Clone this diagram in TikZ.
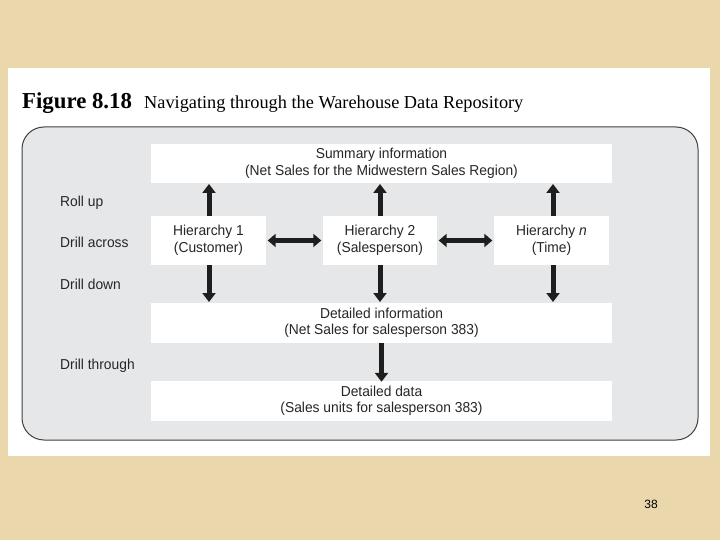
\documentclass[tikz,border=0pt]{standalone}
\usepackage{fontspec}
\setmainfont{Liberation Serif}
\setsansfont{Liberation Sans}
\newfontfamily\boxfont[FakeStretch=0.96]{Liberation Sans}
\usetikzlibrary{arrows.meta}
\definecolor{parch}{HTML}{EAD7AC}
\definecolor{panelgray}{HTML}{E6E7E9}
\definecolor{arr}{HTML}{1E1E1E}
\tikzset{
  box/.style={fill=white, draw=none, inner sep=0pt, align=center, font=\boxfont\fontsize{14.4}{16.5}\selectfont, text=black!85},
  lab/.style={anchor=west, inner sep=0pt, font=\boxfont\fontsize{14.4}{16.5}\selectfont, text=black!85},
  thick arrow/.style={draw=arr, line width=5pt, -{Triangle[width=13pt,length=9pt]}},
  dbl arrow/.style={draw=arr, line width=5.5pt, {Triangle[width=13pt,length=8pt]}-{Triangle[width=13pt,length=8pt]}}
}
\begin{document}
\begin{tikzpicture}[x=1pt,y=-1pt]
\useasboundingbox (0,0) rectangle (720,540);
\fill[parch] (0,0) rectangle (720,540);
\fill[white] (8,68) rectangle (710,456);
\node[anchor=base west, inner sep=0pt] (title) at (22,109) {\fontsize{22.8}{24}\selectfont\bfseries Figure 8.18};
\node[anchor=base west, inner sep=0pt] (subtitle) at (144,109) {\fontsize{18.3}{20}\selectfont Navigating through the Warehouse Data Repository};
\draw[draw=black!75, line width=1pt, fill=panelgray, rounded corners=22pt] (22,127) rectangle (698,440);
\node[box, minimum width=461pt, minimum height=39pt] (sum) at (381.5,163.5) {Summary information\\(Net Sales for the Midwestern Sales Region)};
\node[box, minimum width=115pt, minimum height=49pt] (h1) at (208.5,240.5) {Hierarchy 1\\(Customer)};
\node[box, minimum width=114pt, minimum height=49pt] (h2) at (380,240.5) {Hierarchy 2\\(Salesperson)};
\node[box, minimum width=115pt, minimum height=49pt] (hn) at (551.5,240.5) {Hierarchy \textit{n}\\(Time)};
\node[box, minimum width=461pt, minimum height=40pt] (dinfo) at (381.5,323) {Detailed information\\(Net Sales for salesperson 383)};
\node[box, minimum width=461pt, minimum height=40pt] (ddata) at (381.5,401) {Detailed data\\(Sales units for salesperson 383)};
\node[lab] (l1) at (60,202.5) {Roll up};
\node[lab] (l2) at (60,242.5) {Drill across};
\node[lab] (l3) at (60,284.5) {Drill down};
\node[lab] (l4) at (60,365.5) {Drill through};
\foreach \h/\x in {h1/209,h2/380,hn/553}{
  \draw[thick arrow] (\x,216) -- (\x,184);
  \draw[thick arrow] (\x,265) -- (\x,302);
}
\draw[dbl arrow] ([xshift=1.5pt]h1.east) -- ([xshift=-1.5pt]h2.west);
\draw[dbl arrow] ([xshift=1.5pt]h2.east) -- ([xshift=-1.5pt]hn.west);
\draw[thick arrow] (dinfo.south) -- ([yshift=-1pt]ddata.north);
\node[font=\sffamily\fontsize{12}{13}\selectfont, inner sep=0pt] (pg) at (651,504) {38};
\end{tikzpicture}
\end{document}
